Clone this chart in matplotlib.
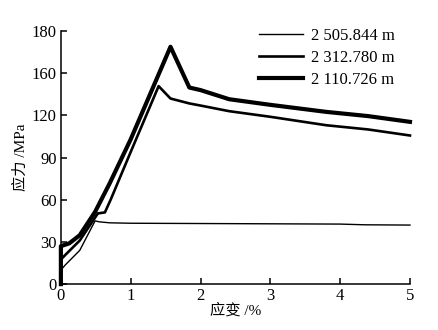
import numpy as np
import matplotlib
matplotlib.use("Agg")
import matplotlib.pyplot as plt

plt.rcParams['font.family'] = ['Liberation Serif', 'Noto Sans CJK SC']

# stress-strain curves
strain_a = [0, 0, 0.06, 0.27, 0.49, 0.55, 0.7, 1.0, 2.0, 3.0, 4.0, 4.35, 5.0]
stress_a = [0, 10, 13.5, 24, 45, 44.3, 43.6, 43.3, 43.1, 42.9, 42.7, 42.2, 42.0]
label_a = "2 505.844 m"

strain_b = [0, 0, 0.06, 0.27, 0.53, 0.63, 0.71, 1.0, 1.4, 1.57, 1.84, 2.0, 2.41, 3.0, 3.8, 4.4, 5.0]
stress_b = [0, 17.5, 20.6, 31, 50.3, 51, 59.7, 94, 140.8, 132, 128.5, 127, 123, 119, 113, 110, 105.7]
label_b = "2 312.780 m"

strain_c = [0, 0, 0.12, 0.27, 0.49, 0.7, 1.0, 1.57, 1.84, 2.0, 2.41, 3.0, 3.8, 4.4, 5.0]
stress_c = [0, 27, 29, 34.8, 51.4, 71.8, 103, 168.8, 139.8, 138, 131.5, 127.5, 122.5, 119.5, 115.4]
label_c = "2 110.726 m"

y_ticks = [0, 30, 60, 90, 120, 150, 180]
y_tick_labels = ["0", "30", "60", "90", "120", "160", "180"]
x_ticks = [0, 1, 2, 3, 4, 5]

fig = plt.figure(figsize=(4.38, 3.3), dpi=100)
ax = fig.add_axes([0.139, 0.139, 0.797, 0.767])

ax.plot(strain_a, stress_a, color='black', lw=1.0, label=label_a, clip_on=False)
ax.plot(strain_b, stress_b, color='black', lw=1.9, label=label_b, clip_on=False)
ax.plot(strain_c, stress_c, color='black', lw=3.0, label=label_c, clip_on=False)

ax.set_xlim(0, 5)
ax.set_ylim(0, 180)
ax.set_xticks(x_ticks)
ax.set_yticks(y_ticks)
ax.set_yticklabels(y_tick_labels)
ax.spines['top'].set_visible(False)
ax.spines['right'].set_visible(False)
for s in ['left', 'bottom']:
    ax.spines[s].set_linewidth(1.1)
ax.tick_params(direction='in', length=4, width=1.1, labelsize=12, pad=3)

ax.set_xlabel("应变 /%", fontsize=11, labelpad=-1)
ax.set_ylabel("应力 /MPa", fontsize=11, labelpad=3)

ax.legend(loc='upper right', frameon=False, fontsize=12, handlelength=2.6,
          handletextpad=0.5, labelspacing=0.35, bbox_to_anchor=(1.0, 1.07))

fig.savefig("out.png", dpi=100)
